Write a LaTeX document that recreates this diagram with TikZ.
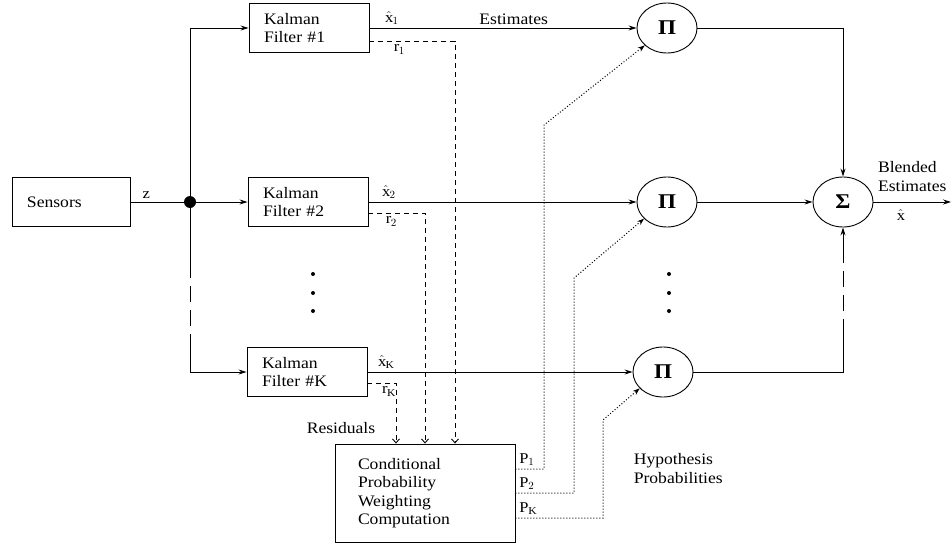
\documentclass[tikz,border=0pt]{standalone}
\usepackage{fontspec}
\setmainfont{Liberation Serif}[FakeStretch=1.1]
\usetikzlibrary{arrows.meta,positioning,shapes.geometric,calc}

\begin{document}
\begin{tikzpicture}[
    x=1pt,
    y=-1pt,
    line width=0.9pt,
    txt/.style={font=\fontsize{16}{18.5}\selectfont},
    sub/.style={font=\fontsize{15}{16}\selectfont},
    blk/.style={draw, txt, align=left, inner xsep=15pt, inner ysep=0pt, minimum height=49pt},
    kf/.style={blk, text width=90pt},
    mult/.style={draw, ellipse, minimum width=60pt, minimum height=50pt, inner sep=0pt, font=\fontsize{21}{21}\selectfont\bfseries},
    junc/.style={circle, fill, minimum size=12pt, inner sep=0pt},
    sig/.style={-{Stealth[length=8pt,width=5pt]}},
    res/.style={dash pattern=on 5pt off 4pt, -{Straight Barb[length=4pt,width=7pt]}},
    prob/.style={dotted, line width=1pt, -{Stealth[length=7pt,width=5pt]}},
    gap/.style={dash pattern=on 16pt off 8pt}
  ]
    \useasboundingbox (0,0) rectangle (952,543);

    % blocks
    \node[blk, text width=88pt] (sensors) at (71,202) {Sensors};
    \node[junc] (split) at (190,202) {};
    \node[kf] (kf1) at (309,28) {Kalman\\Filter \#1};
    \node[kf] (kf2) at (308,202) {Kalman\\Filter \#2};
    \node[kf] (kfK) at (307,372) {Kalman\\Filter \#K};
    \node[blk, text width=134pt, inner xsep=23pt, minimum height=98pt] (cpw) at (425,493)
      {Conditional\\Probability\\Weighting\\Computation};
    \node[mult] (pi1) at (667,28) {Π};
    \node[mult] (pi2) at (667,202) {Π};
    \node[mult] (piK) at (663,372) {Π};
    \node[mult] (sum) at (843,202) {Σ};
    \coordinate (out) at (951,202);

    % sensor fan-out
    \coordinate (gapA) at (190,262);
    \coordinate (gapB) at (190,345);
    \draw (sensors) -- node[sub, above, pos=0.3] {z} (split);
    \draw[sig] (split) |- (kf1);
    \draw[sig] (split) -- (kf2);
    \draw (split) -- (gapA);
    \draw[gap] (gapA) -- (gapB);
    \draw[sig] (gapB) |- (kfK);

    % estimates
    \draw[sig] (kf1) -- node[sub, above right, pos=0, xshift=12pt] {$\hat{\mathrm{x}}_1$}
      node[txt, above, pos=0.54] {Estimates} (pi1);
    \draw[sig] (kf2) -- node[sub, above right, pos=0, xshift=10pt] {$\hat{\mathrm{x}}_2$} (pi2);
    \draw[sig] (kfK) -- node[sub, above right, pos=0, xshift=7pt] {$\hat{\mathrm{x}}_{\mathrm{K}}$} (piK);

    % residuals
    \draw[res] ([yshift=-13pt]kf1.east) -| node[sub, below right, pos=0.12] {$\mathrm{r}_1$} ([xshift=30pt]cpw.north);
    \draw[res] ([yshift=-11pt]kf2.east) -| node[sub, below right, pos=0.12] {$\mathrm{r}_2$} (cpw.north);
    \draw[res] ([yshift=-11pt]kfK.east) -| node[sub, below right, pos=0.19] {$\mathrm{r}_{\mathrm{K}}$} ([xshift=-29pt]cpw.north);
    \node[txt] (resid) at (341,428) {Residuals};

    % hypothesis probabilities
    \draw[prob] ([yshift=24pt]cpw.east) node[sub, above right] {P$_1$} -| (544,125) -- (pi1.218);
    \draw[prob] (cpw.east) node[sub, above right] {P$_2$} -| (574,278) -- (pi2.216);
    \draw[prob] ([yshift=-25pt]cpw.east) node[sub, above right] {P$_{\mathrm{K}}$} -| (603,420) -- (piK.215);
    \node[txt, align=left, anchor=north west] (hyp) at (630,450) {Hypothesis\\Probabilities};

    % blending
    \coordinate (gapC) at (843,335);
    \coordinate (gapD) at (843,262);
    \draw[sig] (pi1) -| (sum);
    \draw[sig] (pi2) -- (sum);
    \draw (piK) -| (gapC);
    \draw[gap] (gapC) -- (gapD);
    \draw[sig] (gapD) -- (sum);
    \draw[sig] (sum) -- node[txt, above=7pt, align=left] {Blended\\Estimates}
      node[sub, below=4pt, pos=0.35] {$\hat{\mathrm{x}}$} (out);

    \foreach \y in {274,293,311} {
      \fill (313,\y) circle (2pt);
      \fill (669,\y) circle (2pt);
    }
  \end{tikzpicture}
\end{document}
